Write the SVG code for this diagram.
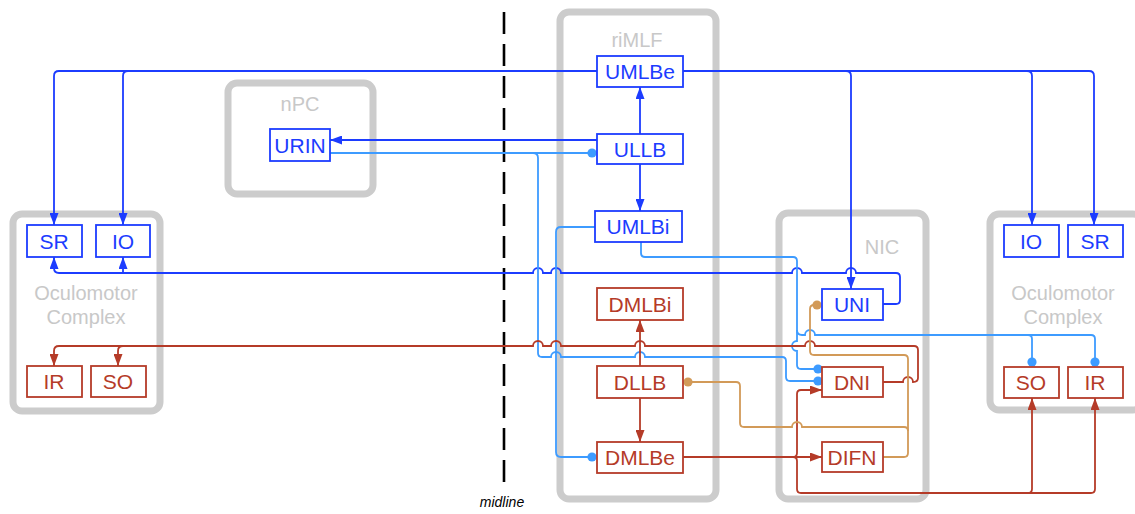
<svg xmlns="http://www.w3.org/2000/svg" width="1135" height="514" viewBox="0 0 1135 514">
  <style>
    .grp { fill: #ffffff; stroke: #cccccc; stroke-width: 7; }
    .glabel { font-family: "Liberation Sans", Arial, sans-serif; font-size: 20px; fill: #c8c8c8; text-anchor: middle; }
    .node rect { fill: #ffffff; stroke-width: 1.8; }
    .node text { font-family: "Liberation Sans", Arial, sans-serif; font-size: 21px; text-anchor: middle; }
    .up rect { stroke: #1c3cff; }
    .up text { fill: #1c3cff; }
    .down rect { stroke: #b53b28; }
    .down text { fill: #b53b28; }
    .wire { fill: none; stroke-width: 1.8; }
    .w-blue { stroke: #1c3cff; }
    .w-lblue { stroke: #3d9bff; }
    .w-red { stroke: #b53b28; }
    .w-tan { stroke: #d29a58; }
  </style>
  <defs>
    <marker id="arr-blue" viewBox="0 0 12 9" refX="12" refY="4.5" markerWidth="12" markerHeight="9" markerUnits="userSpaceOnUse" orient="auto">
      <path d="M0,0 L12,4.5 L0,9 z" fill="#1c3cff"/>
    </marker>
    <marker id="arr-red" viewBox="0 0 12 9" refX="12" refY="4.5" markerWidth="12" markerHeight="9" markerUnits="userSpaceOnUse" orient="auto">
      <path d="M0,0 L12,4.5 L0,9 z" fill="#b53b28"/>
    </marker>
    <marker id="dot-lblue" viewBox="0 0 10 10" refX="5" refY="5" markerWidth="10" markerHeight="10" markerUnits="userSpaceOnUse">
      <circle cx="5" cy="5" r="4.6" fill="#3d9bff"/>
    </marker>
    <marker id="dot-tan" viewBox="0 0 10 10" refX="5" refY="5" markerWidth="10" markerHeight="10" markerUnits="userSpaceOnUse">
      <circle cx="5" cy="5" r="4.6" fill="#d29a58"/>
    </marker>
  </defs>

  <rect width="1135" height="514" fill="#ffffff"/>

  <!-- region outlines -->
  <g id="oculomotor-left">
    <rect class="grp" x="13" y="214" width="147" height="197" rx="9"/>
    <text class="glabel" x="86" y="300">Oculomotor</text>
    <text class="glabel" x="86" y="324">Complex</text>
  </g>
  <g id="npc">
    <rect class="grp" x="228" y="83" width="145" height="111" rx="9"/>
    <text class="glabel" x="300" y="111">nPC</text>
  </g>
  <g id="rimlf">
    <rect class="grp" x="560" y="12" width="156" height="487" rx="9"/>
    <text class="glabel" x="637" y="47">riMLF</text>
  </g>
  <g id="nic">
    <rect class="grp" x="779" y="213" width="147" height="286" rx="9"/>
    <text class="glabel" x="882" y="254">NIC</text>
  </g>
  <g id="oculomotor-right">
    <rect class="grp" x="990" y="214" width="152" height="196" rx="9"/>
    <text class="glabel" x="1063" y="300">Oculomotor</text>
    <text class="glabel" x="1063" y="324">Complex</text>
  </g>

  <!-- midline -->
  <g id="midline">
    <line x1="504" y1="12" x2="504" y2="488" stroke="#000000" stroke-width="2.6" stroke-dasharray="22 10"/>
    <text x="502" y="507" font-family="Liberation Sans, Arial, sans-serif" font-size="14" font-style="italic" text-anchor="middle" fill="#000000">midline</text>
  </g>

  <!-- connectors -->
  <g id="connectors">
    <!-- UMLBe to both oculomotor complexes and UNI -->
    <path class="wire w-blue" d="M597,71 H128 Q123,71 123,76 V225" marker-end="url(#arr-blue)"/>
    <path class="wire w-blue" d="M128,71 H59 Q54,71 54,76 V225" marker-end="url(#arr-blue)"/>
    <path class="wire w-blue" d="M683,71 H1089 Q1094,71 1094,76 V225" marker-end="url(#arr-blue)"/>
    <path class="wire w-blue" d="M1027,71 Q1032,71 1032,76 V225" marker-end="url(#arr-blue)"/>
    <path class="wire w-blue" d="M846,71 Q851,71 851,76 V289" marker-end="url(#arr-blue)"/>

    <!-- ULLB outputs -->
    <path class="wire w-blue" d="M640,134 V87" marker-end="url(#arr-blue)"/>
    <path class="wire w-blue" d="M640,164 V211" marker-end="url(#arr-blue)"/>
    <path class="wire w-blue" d="M597,140 H330" marker-end="url(#arr-blue)"/>

    <!-- UNI back to left SR / IO -->
    <path class="wire w-blue" d="M883,304 H896 Q900,304 900,300 V277 Q900,273 896,273 H856 a5,5 0 0 0 -10,0 H802 a5,5 0 0 0 -10,0 H561 a5,5 0 0 0 -10,0 H543 a5,5 0 0 0 -10,0 H59 Q54,273 54,268 V257" marker-end="url(#arr-blue)"/>
    <path class="wire w-blue" d="M123,273 V257" marker-end="url(#arr-blue)"/>

    <!-- URIN to ULLB and DNI -->
    <path class="wire w-lblue" d="M330,153 H592" marker-end="url(#dot-lblue)"/>
    <path class="wire w-lblue" d="M533,153 Q538,153 538,158 V353 Q538,357 542,357 H551 a5,5 0 0 1 10,0 H635 a5,5 0 0 1 10,0 H782 Q786,357 786,361 V377 Q786,381 790,381 H818" marker-end="url(#dot-lblue)"/>

    <!-- UMLBi to DMLBe -->
    <path class="wire w-lblue" d="M595,227 H561 Q556,227 556,232 V452 Q556,457 561,457 H592" marker-end="url(#dot-lblue)"/>

    <!-- UMLBi to DNI and right SO / IR -->
    <path class="wire w-lblue" d="M641,242 V253 Q641,257 645,257 H793 Q797,257 797,261 V341 a5,5 0 0 0 0,10 V365 Q797,369 801,369 H818" marker-end="url(#dot-lblue)"/>
    <path class="wire w-lblue" d="M797,330 Q797,335 802,335 H805 a5,5 0 0 1 10,0 H1028 Q1032,335 1032,339 V362" marker-end="url(#dot-lblue)"/>
    <path class="wire w-lblue" d="M1028,335 H1091 Q1095,335 1095,339 V362" marker-end="url(#dot-lblue)"/>

    <!-- DLLB outputs -->
    <path class="wire w-red" d="M640,366 V320" marker-end="url(#arr-red)"/>
    <path class="wire w-red" d="M640,398 V442" marker-end="url(#arr-red)"/>

    <!-- DNI back to left IR / SO -->
    <path class="wire w-red" d="M883,382 H903 a5,5 0 0 1 10,0 Q918,382 918,378 V350 Q918,346 914,346 H815 a5,5 0 0 0 -10,0 H645 a5,5 0 0 0 -10,0 H561 a5,5 0 0 0 -10,0 H543 a5,5 0 0 0 -10,0 H59 Q54,346 54,351 V366" marker-end="url(#arr-red)"/>
    <path class="wire w-red" d="M123,346 Q118,346 118,351 V366" marker-end="url(#arr-red)"/>

    <!-- DMLBe to DIFN, DNI and right SO / IR -->
    <path class="wire w-red" d="M683,457 H822" marker-end="url(#arr-red)"/>
    <path class="wire w-red" d="M683,457 H793 Q797,457 797,453 V394 Q797,390 801,390 H822" marker-end="url(#arr-red)"/>
    <path class="wire w-red" d="M683,457 H793 Q797,457 797,461 V489 Q797,493 801,493 H1028 Q1032,493 1032,489 V398" marker-end="url(#arr-red)"/>
    <path class="wire w-red" d="M1028,493 H1091 Q1095,493 1095,489 V398" marker-end="url(#arr-red)"/>

    <!-- DIFN to UNI and DLLB -->
    <path class="wire w-tan" d="M883,457 H904 Q908,457 908,453 V359 Q908,355 904,355 H814 Q810,355 810,351 V309 Q810,305 814,305 H817" marker-end="url(#dot-tan)"/>
    <path class="wire w-tan" d="M908,431 Q908,427 904,427 H802 a5,5 0 0 0 -10,0 H744 Q740,427 740,423 V386 Q740,382 736,382 H688" marker-end="url(#dot-tan)"/>
  </g>

  <!-- nodes -->
  <g id="UMLBe" class="node up"><rect x="597" y="56" width="86" height="31"/><text x="640" y="79">UMLBe</text></g>
  <g id="ULLB" class="node up"><rect x="597" y="134" width="86" height="30"/><text x="640" y="157">ULLB</text></g>
  <g id="UMLBi" class="node up"><rect x="595" y="211" width="87" height="31"/><text x="638" y="234">UMLBi</text></g>
  <g id="URIN" class="node up"><rect x="270" y="129" width="60" height="32"/><text x="300" y="153">URIN</text></g>
  <g id="UNI" class="node up"><rect x="822" y="289" width="61" height="31"/><text x="852" y="312">UNI</text></g>
  <g id="SR-left" class="node up"><rect x="27" y="225" width="55" height="32"/><text x="54" y="249">SR</text></g>
  <g id="IO-left" class="node up"><rect x="96" y="225" width="54" height="32"/><text x="123" y="249">IO</text></g>
  <g id="IO-right" class="node up"><rect x="1004" y="225" width="55" height="32"/><text x="1031" y="249">IO</text></g>
  <g id="SR-right" class="node up"><rect x="1068" y="225" width="55" height="32"/><text x="1095" y="249">SR</text></g>

  <g id="DMLBi" class="node down"><rect x="597" y="288" width="86" height="32"/><text x="640" y="312">DMLBi</text></g>
  <g id="DLLB" class="node down"><rect x="597" y="366" width="86" height="32"/><text x="640" y="390">DLLB</text></g>
  <g id="DMLBe" class="node down"><rect x="597" y="442" width="86" height="31"/><text x="640" y="465">DMLBe</text></g>
  <g id="DNI" class="node down"><rect x="822" y="367" width="61" height="30"/><text x="852" y="390">DNI</text></g>
  <g id="DIFN" class="node down"><rect x="822" y="442" width="61" height="30"/><text x="852" y="465">DIFN</text></g>
  <g id="IR-left" class="node down"><rect x="27" y="366" width="55" height="31"/><text x="54" y="389">IR</text></g>
  <g id="SO-left" class="node down"><rect x="91" y="366" width="55" height="31"/><text x="118" y="389">SO</text></g>
  <g id="SO-right" class="node down"><rect x="1004" y="367" width="55" height="31"/><text x="1031" y="390">SO</text></g>
  <g id="IR-right" class="node down"><rect x="1068" y="367" width="55" height="31"/><text x="1095" y="390">IR</text></g>
</svg>
